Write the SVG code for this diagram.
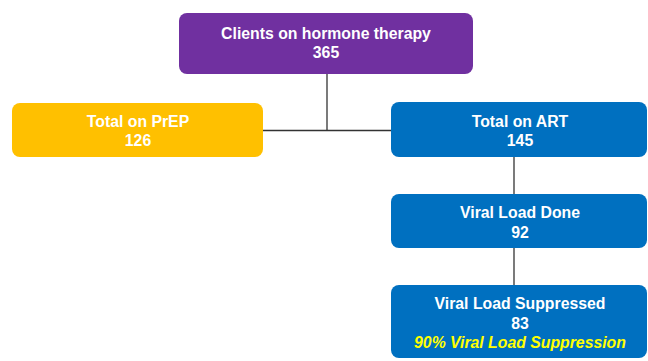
<svg xmlns="http://www.w3.org/2000/svg" width="648" height="361" viewBox="0 0 648 361">
<style>
.box{stroke:none}
.t{font-family:"Liberation Sans",Arial,sans-serif;font-weight:bold;font-size:15.8px;fill:#FFFFFF;text-anchor:middle}
.y{fill:#FFFF00;font-style:italic}
.c{stroke:#333333;stroke-width:1.3;fill:none}
</style>
<rect width="648" height="361" fill="#FFFFFF"/>
<g id="connectors">
<line class="c" x1="327" y1="74" x2="327" y2="130"/>
<line class="c" x1="263" y1="130.5" x2="391" y2="130.5"/>
<line class="c" x1="514" y1="157" x2="514" y2="194"/>
<line class="c" x1="514" y1="248" x2="514" y2="285"/>
</g>
<g id="clients">
<rect class="box" x="179" y="13" width="294" height="61" rx="8" fill="#7030A0"/>
<text class="t" x="326" y="39">Clients on hormone therapy</text>
<text class="t" x="326" y="58">365</text>
</g>
<g id="prep">
<rect class="box" x="12" y="103" width="251" height="54" rx="8" fill="#FFC000"/>
<text class="t" x="138" y="127">Total on PrEP</text>
<text class="t" x="138" y="146">126</text>
</g>
<g id="art">
<rect class="box" x="391" y="102" width="256" height="55" rx="8" fill="#0070C0"/>
<text class="t" x="520" y="127">Total on ART</text>
<text class="t" x="520" y="146">145</text>
</g>
<g id="vldone">
<rect class="box" x="391" y="194" width="256" height="54" rx="8" fill="#0070C0"/>
<text class="t" x="520" y="218">Viral Load Done</text>
<text class="t" x="520" y="238">92</text>
</g>
<g id="vlsupp">
<rect class="box" x="391" y="285" width="256" height="73" rx="8" fill="#0070C0"/>
<text class="t" x="520" y="309">Viral Load Suppressed</text>
<text class="t" x="520" y="329">83</text>
<text class="t y" x="520" y="348">90% Viral Load Suppression</text>
</g>
</svg>
